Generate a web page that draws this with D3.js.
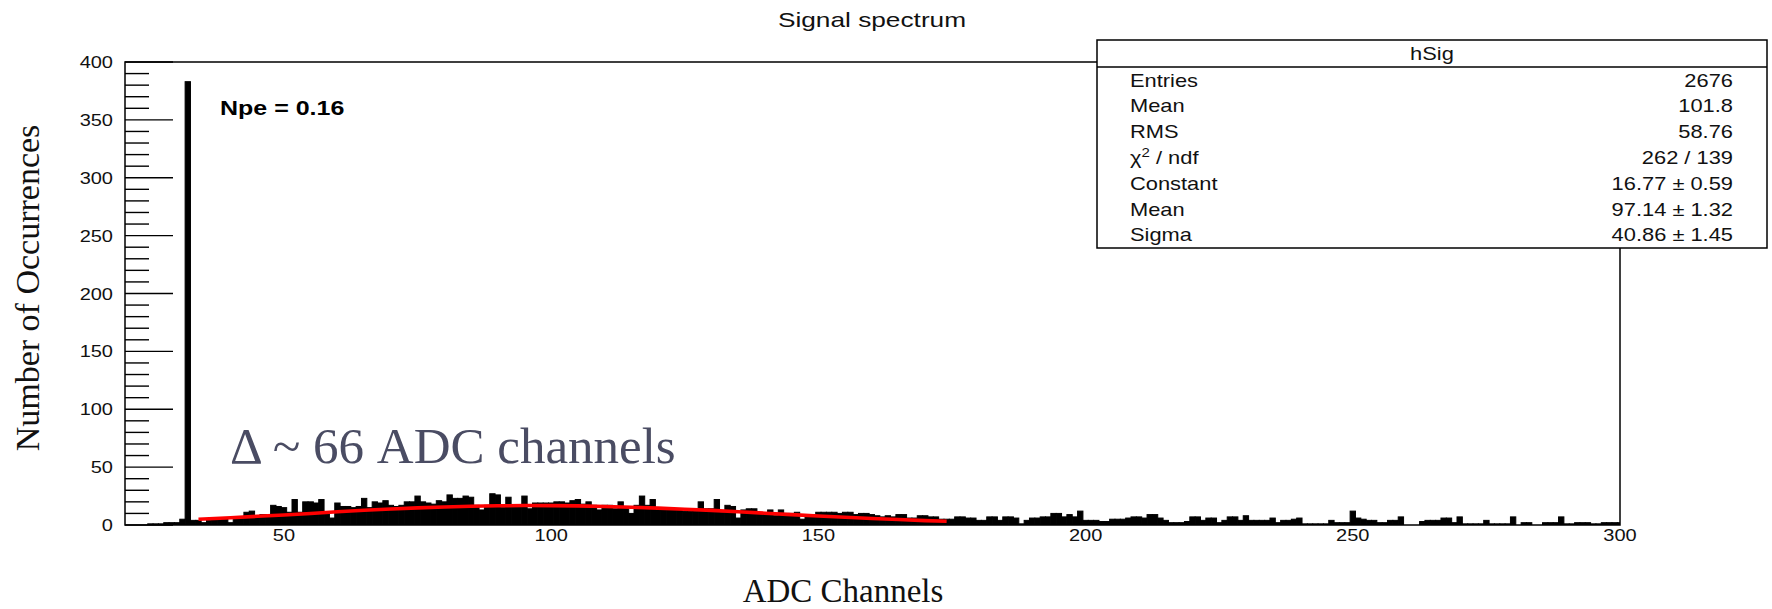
<!DOCTYPE html>
<html><head><meta charset="utf-8">
<script src="https://cdn.jsdelivr.net/npm/d3@7"></script>
<style>html,body{margin:0;padding:0;background:#fff;} svg{display:block;}</style>
</head><body>
<svg id="chart" width="1772" height="609"></svg>
<script>
// ---- data ----
const binCenters = d3.range(20, 301); // 1-channel bins, centres 20..300
const counts = [
  0,0,0,0,0,
  1,1,1,2,2,2,5,
  383,
  4,4,
  2,4,5,6,5,2,6,7,
  11,12,8,9,9,17,16,15,11,22,11,20,20,19,22,10,6,19,
  16,16,15,16,23,15,20,19,21,17,16,17,20,20,25,20,19,18,21,20,
  26,23,23,25,24,17,13,17,27,26,15,24,17,17,25,14,19,19,19,19,
  20,20,19,21,22,18,20,17,13,17,17,14,20,16,10,17,25,17,22,13,
  13,14,14,14,12,12,12,20,14,14,22,11,17,16,6,13,14,14,10,10,
  13,8,13,10,10,11,5,9,9,11,11,11,11,10,11,11,9,10,10,9,
  8,7,8,7,9,9,6,6,8,8,7,7,5,5,5,7,7,6,6,4,
  4,7,7,4,7,7,6,1,4,6,6,7,7,10,10,7,9,7,12,4,
  4,4,3,3,5,5,5,6,7,7,6,9,9,6,4,2,2,2,3,7,
  7,4,6,6,2,4,7,7,4,8,4,4,4,4,6,2,4,4,5,6,
  1,1,1,1,1,4,2,2,2,12,6,5,4,4,2,2,4,4,7,0,
  0,0,3,4,4,4,6,6,2,7,1,1,1,1,4,1,1,1,1,7,
  0,2,2,0,0,2,2,2,7,1,1,2,2,2,1,1,2,2,2,2
];
// red fit curve
const fitX = [34, 40, 45, 50, 55, 60, 65, 70, 75, 80, 85, 90, 95, 100, 105, 110, 115, 120, 125, 130, 135, 140, 145, 150, 155, 160, 165, 170, 174];
const fitY = [5.0, 6.3, 7.5, 8.6, 10.0, 11.5, 12.7, 13.8, 14.8, 15.6, 16.2, 16.6, 16.8, 16.7, 16.5, 16.0, 15.4, 14.6, 13.6, 12.6, 11.4, 10.2, 9.0, 7.8, 6.7, 5.6, 4.7, 3.8, 3.2];
const xTicks = [50, 100, 150, 200, 250, 300];
const yTicks = [0, 50, 100, 150, 200, 250, 300, 350, 400];
const yMinor = d3.range(0, 401, 10);
const statTitle = "hSig";
const statLabels = ["Entries", "Mean", "RMS", "CHI", "Constant", "Mean", "Sigma"];
const statValues = ["2676", "101.8", "58.76", "262 / 139", "16.77 \u00b1 0.59", "97.14 \u00b1 1.32", "40.86 \u00b1 1.45"];

// ---- layout ----
const svg = d3.select("#chart");
const L = 125, R = 1620, T = 62, B = 525;
const x = d3.scaleLinear().domain([20.25, 300]).range([L, R]);
const y = d3.scaleLinear().domain([0, 400]).range([B, T]);
const SX = 1.25;
const SANS = "'Liberation Sans', Arial, Helvetica, sans-serif";
const SERIF = "'Liberation Serif', 'Times New Roman', serif";

function rootText(g, px, py, str, size, anchor, weight) {
  return g.append("text")
    .attr("transform", `translate(${px},${py}) scale(${SX},1)`)
    .attr("text-anchor", anchor || "start")
    .style("font-family", SANS)
    .style("font-size", size + "px")
    .style("font-weight", weight || "normal")
    .attr("fill", "#111")
    .text(str);
}

svg.append("defs").append("clipPath").attr("id", "clip")
  .append("rect").attr("x", L).attr("y", T).attr("width", R - L).attr("height", B - T);

// histogram
const bins = binCenters.map((c, i) => ({c, v: counts[i]}));
svg.append("g").attr("clip-path", "url(#clip)")
  .selectAll("rect").data(bins.filter(d => d.v > 0)).join("rect")
  .attr("x", d => x(d.c - 0.5))
  .attr("width", d => x(d.c + 0.5) - x(d.c - 0.5))
  .attr("y", d => y(d.v))
  .attr("height", d => y(0) - y(d.v))
  .attr("fill", "#000")
  .attr("stroke", "#000")
  .attr("stroke-width", 1);

// fit curve
const fitPts = fitX.map((v, i) => [v, fitY[i]]);
svg.append("path")
  .attr("clip-path", "url(#clip)")
  .attr("d", d3.line().x(d => x(d[0])).y(d => y(d[1]))(fitPts))
  .attr("fill", "none").attr("stroke", "#ff0000").attr("stroke-width", 3.6);

// frame
svg.append("rect").attr("x", L).attr("y", T).attr("width", R - L).attr("height", B - T)
  .attr("fill", "none").attr("stroke", "#000").attr("stroke-width", 1.5);

// y ticks (inside the frame)
const gy = svg.append("g");
gy.selectAll("line").data(yMinor).join("line")
  .attr("x1", L).attr("x2", d => (d % 50 === 0 ? L + 48 : L + 24))
  .attr("y1", d => y(d)).attr("y2", d => y(d))
  .attr("stroke", "#000").attr("stroke-width", 1.4);
yTicks.forEach(t => rootText(gy, L - 12, y(t) + 6, String(t), 16, "end"));

// x tick labels
const gx = svg.append("g");
xTicks.forEach(t => rootText(gx, x(t), 541, String(t), 16, "middle"));

// title
rootText(svg, 872, 27, "Signal spectrum", 21, "middle");

// Npe
rootText(svg, 220, 115, "Npe = 0.16", 20, "start", "bold").attr("fill", "#000");

// stats box
const bx0 = 1097, bx1 = 1767, by0 = 40, byH = 67, by1 = 248;
const gs = svg.append("g");
gs.append("rect").attr("x", bx0).attr("y", by0).attr("width", bx1 - bx0).attr("height", by1 - by0)
  .attr("fill", "#fff").attr("stroke", "#000").attr("stroke-width", 1.5);
gs.append("line").attr("x1", bx0).attr("x2", bx1).attr("y1", byH).attr("y2", byH)
  .attr("stroke", "#000").attr("stroke-width", 1.5);
rootText(gs, (bx0 + bx1) / 2, 60, statTitle, 17.5, "middle");
statLabels.forEach((lab, i) => {
  const cy = 80 + i * 25.8 + 6.5;
  if (lab === "CHI") {
    const t = rootText(gs, 1130, cy, "", 17.5, "start");
    t.append("tspan").text("\u03c7");
    t.append("tspan").attr("dy", -7).style("font-size", "12px").text("2");
    t.append("tspan").attr("dy", 7).text(" / ndf");
  } else {
    rootText(gs, 1130, cy, lab, 17.5, "start");
  }
  rootText(gs, 1733, cy, statValues[i], 17.5, "end");
});

// slide annotations (serif)
svg.append("text").attr("x", 230).attr("y", 463)
  .style("font-family", SERIF).style("font-size", "51px").attr("fill", "#4a4c63")
  .text("\u0394 ~ 66 ADC channels");
svg.append("text").attr("x", 843).attr("y", 602).attr("text-anchor", "middle")
  .style("font-family", SERIF).style("font-size", "33px").attr("fill", "#111")
  .text("ADC Channels");
svg.append("text").attr("transform", "translate(39,288) rotate(-90)").attr("text-anchor", "middle")
  .style("font-family", SERIF).style("font-size", "34px").attr("fill", "#111")
  .text("Number of Occurrences");
</script>
</body></html>
